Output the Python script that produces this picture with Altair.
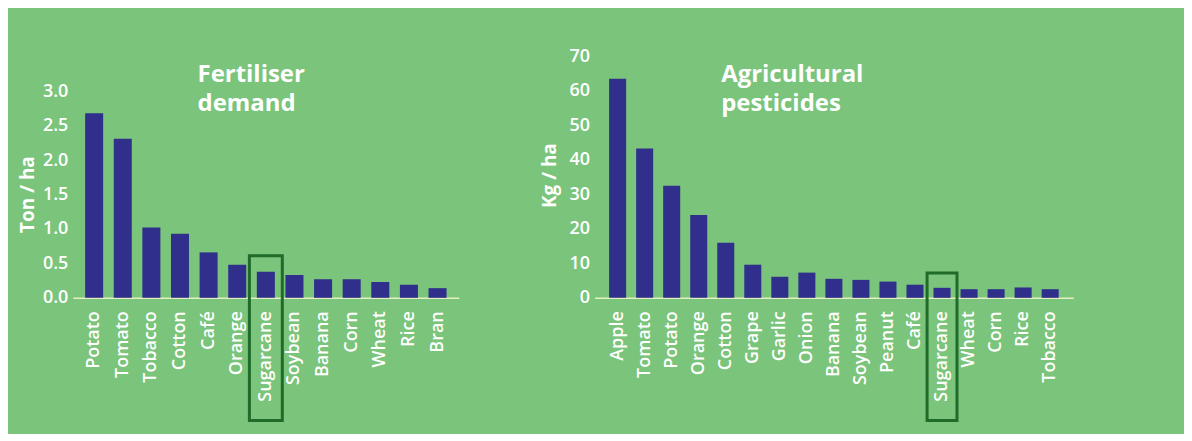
import altair as alt
import pandas as pd

fert_crops = ["Potato", "Tomato", "Tobacco", "Cotton", "Café", "Orange", "Sugarcane",
              "Soybean", "Banana", "Corn", "Wheat", "Rice", "Bran"]
fert_vals = [2.68, 2.31, 1.02, 0.93, 0.66, 0.48, 0.38, 0.33, 0.27, 0.27, 0.23, 0.19, 0.14]
fert_ticks = [0, 0.5, 1.0, 1.5, 2.0, 2.5, 3.0]

pest_crops = ["Apple", "Tomato", "Potato", "Orange", "Cotton", "Grape", "Garlic", "Onion",
              "Banana", "Soybean", "Peanut", "Café", "Sugarcane", "Wheat", "Corn", "Rice", "Tobacco"]
pest_vals = [63.5, 43.3, 32.5, 24.0, 16.0, 9.6, 6.1, 7.3, 5.5, 5.2, 4.7, 3.8, 2.9, 2.5, 2.5, 3.0, 2.5]
pest_ticks = [0, 10, 20, 30, 40, 50, 60, 70]

highlight = "Sugarcane"

FONT = "Open Sans"
BG = "#7BC47B"
BAR = "#30308C"
BOX = "#1E6B2A"
WHITE = "#FFFFFF"


def panel(crops, vals, ticks, ymax, fmt, title_lines, ytitle, title_y, width, height,
          pad_outer, box_top, box_w, title_x):
    df = pd.DataFrame({"crop": crops, "value": vals})
    xenc = alt.X(
        "crop:N", sort=crops,
        scale=alt.Scale(paddingInner=0.37, paddingOuter=pad_outer),
        axis=alt.Axis(title=None, labelAngle=270, labelAlign="right", labelBaseline="middle",
                      labelPadding=13, ticks=False, domainColor="#E4EEC2", domainWidth=1.5,
                      labelColor=WHITE, labelFont=FONT, labelFontSize=18, labelFontWeight=600,
                      labelOverlap=False),
    )
    yenc = alt.Y(
        "value:Q", stack=None,
        scale=alt.Scale(domain=[0, ymax], nice=False, zero=True),
        axis=alt.Axis(values=ticks, tickCount=len(ticks), format=fmt, title=ytitle,
                      grid=False, domain=False,
                      ticks=False, labelPadding=5, labelColor=WHITE, labelFont=FONT,
                      labelFontSize=18, labelFontWeight=600, labelOverlap=False,
                      titleColor=WHITE, titleFont=FONT, titleFontSize=19,
                      titleFontWeight="bold", titleBaseline="middle", titleAngle=270,
                      titleX=-45, titleY=title_y),
    )
    bars = alt.Chart(df).mark_bar(color=BAR).encode(x=xenc, y=yenc)
    box_df = pd.DataFrame({"crop": [highlight], "value": [box_top]})
    box = alt.Chart(box_df).mark_bar(fill="transparent", stroke=BOX, strokeWidth=3,
                                     width=box_w).encode(
        x=alt.X("crop:N", sort=crops), y=alt.Y("value:Q", stack=None), y2=alt.value(365))
    layers = [bars, box]
    for i, line in enumerate(title_lines):
        layers.append(alt.Chart(pd.DataFrame({"t": [line]})).mark_text(
            align="left", baseline="alphabetic", font=FONT, fontSize=24,
            fontWeight="bold", color=WHITE).encode(
            text="t:N", x=alt.value(title_x), y=alt.value(26 + 29 * i)))
    return alt.layer(*layers).properties(width=width, height=height)


left = panel(fert_crops, fert_vals, fert_ticks, 242 / 69, ".1f", ["Fertiliser", "demand"],
             "Ton / ha", 138, 387, 242, 0.43, 0.61, 33, 125)
right = panel(pest_crops, pest_vals, pest_ticks, 70, ".0f", ["Agricultural", "pesticides"],
              "Kg / ha", 119, 480, 242, 0.54, 7.2, 30, 127)

chart = alt.hconcat(left, right, spacing=82).properties(
    background=BG,
    padding={"left": 11, "top": 39, "right": 111, "bottom": 11},
).configure_view(strokeWidth=0)

chart.save("out.html", embed_options={"renderer": "svg", "actions": False})
